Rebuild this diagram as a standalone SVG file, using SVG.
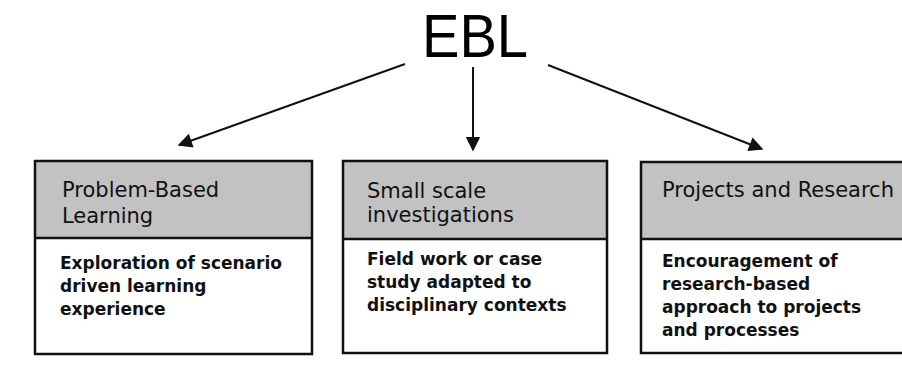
<svg xmlns="http://www.w3.org/2000/svg" width="902" height="377" viewBox="0 0 902 377">
<style>
.hdr{fill:#c2c2c2;stroke:none}
.body{fill:#ffffff;stroke:none}
.frame{fill:none;stroke:#111;stroke-width:2.5}
.ht{font-family:"DejaVu Sans",Verdana,sans-serif;font-size:21px;fill:#111}
.bt{font-family:"DejaVu Sans",Verdana,sans-serif;font-size:17px;font-weight:bold;fill:#111}
.title{font-family:"Liberation Sans",Arial,sans-serif;font-size:62px;fill:#000}
.conn{stroke:#111;stroke-width:2;fill:none;marker-end:url(#ah)}
</style>
<defs>
<marker id="ah" viewBox="0 0 10 10" refX="9" refY="5" markerWidth="8" markerHeight="8" markerUnits="userSpaceOnUse" orient="auto" style="overflow:visible">
<path d="M0,0 L10,5 L0,10 z" fill="#111" transform="scale(1.8)" transform-origin="9 5"/>
</marker>
</defs>
<rect width="902" height="377" fill="#ffffff"/>
<g id="ebl">
<text class="title" x="422" y="57" textLength="106" lengthAdjust="spacingAndGlyphs">EBL</text>
</g>
<g id="connectors">
<line class="conn" x1="405" y1="64" x2="179" y2="145"/>
<line class="conn" x1="473" y1="67" x2="473" y2="150"/>
<line class="conn" x1="548" y1="65" x2="762" y2="149"/>
</g>
<g id="pbl">
<rect class="hdr" x="35" y="161" width="277" height="77"/>
<rect class="body" x="35" y="238" width="277" height="116"/>
<rect class="frame" x="35" y="161" width="277" height="193"/>
<line class="frame" x1="35" y1="238" x2="312" y2="238"/>
<text class="ht" x="62" y="197">Problem-Based</text>
<text class="ht" x="62" y="223">Learning</text>
<text class="bt" x="60" y="269">Exploration of scenario</text>
<text class="bt" x="60" y="292">driven learning</text>
<text class="bt" x="60" y="315">experience</text>
</g>
<g id="ssi">
<rect class="hdr" x="343" y="161" width="264" height="78"/>
<rect class="body" x="343" y="239" width="264" height="114"/>
<rect class="frame" x="343" y="161" width="264" height="192"/>
<line class="frame" x1="343" y1="239" x2="607" y2="239"/>
<text class="ht" x="367" y="198">Small scale</text>
<text class="ht" x="367" y="222">investigations</text>
<text class="bt" x="367" y="265">Field work or case</text>
<text class="bt" x="367" y="288">study adapted to</text>
<text class="bt" x="367" y="311">disciplinary contexts</text>
</g>
<g id="par">
<rect class="hdr" x="641" y="162" width="270" height="77"/>
<rect class="body" x="641" y="239" width="270" height="114"/>
<rect class="frame" x="641" y="162" width="270" height="191"/>
<line class="frame" x1="641" y1="239" x2="911" y2="239"/>
<text class="ht" x="662" y="197">Projects and Research</text>
<text class="bt" x="662" y="267">Encouragement of</text>
<text class="bt" x="662" y="290">research-based</text>
<text class="bt" x="662" y="313">approach to projects</text>
<text class="bt" x="662" y="336">and processes</text>
</g>
</svg>
